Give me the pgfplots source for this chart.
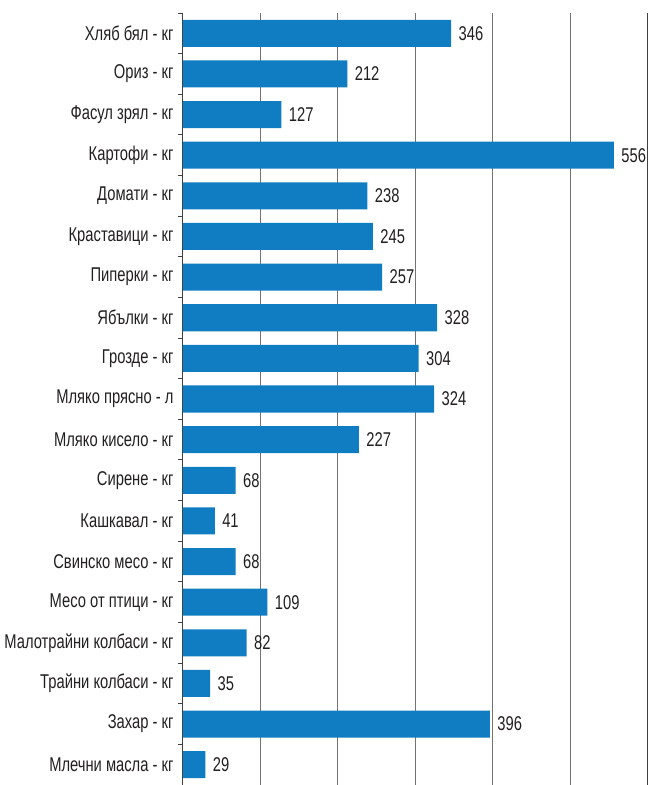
\documentclass[border=0pt]{standalone}
\usepackage{pgfplots}
\pgfplotsset{compat=1.18}
\usepackage{fontspec}
\setmainfont{Liberation Sans}[FakeStretch=0.74]
\usetikzlibrary{calc}
\definecolor{barblue}{HTML}{107DC2}
\definecolor{txt}{HTML}{231F20}

\begin{document}
\begin{tikzpicture}[x=1bp,y=1bp]
	\begin{axis}[
			name=ax,
			xbar,
			scale only axis,
			width=465bp, height=772bp,
			xmin=0, xmax=600,
			ymin=-0.5, ymax=18.5,
			y dir=reverse,
			bar width=0.665,
			ytick={0,...,18},
			yticklabels={Хляб бял  - кг,Ориз - кг,Фасул зрял - кг,Картофи - кг,Домати - кг,Краставици - кг,Пиперки - кг,Ябълки - кг,Грозде - кг,Мляко прясно - л,Мляко кисело - кг,Сирене - кг,Кашкавал - кг,Свинско месо - кг,Месо от птици - кг,Малотрайни колбаси - кг,Трайни колбаси - кг,Захар - кг,Млечни масла - кг},
			minor ytick={-0.5,0.5,...,18.5},
			major tick length=0pt,
			minor tick length=5bp,
			tick align=outside,
			ytick pos=left,
			xtick={100,200,...,600},
			xticklabels={},
			xtick style={draw=none},
			xmajorgrids=true,
			major grid style={draw=black!55,line width=1bp},
			separate axis lines,
			x axis line style={draw=none},
			y axis line style={draw=black!75,line width=1bp},
			minor y tick style={draw=black!75,line width=1bp},
			y tick label style={font=\fontsize{20}{21}\selectfont,text=txt,xshift=-6bp},
			/pgf/number format/assume math mode=true,
			nodes near coords,
			every node near coord/.append style={font=\fontsize{20}{21}\selectfont,text=txt,anchor=west,xshift=4bp},
		]
		\addplot[draw=none,fill=barblue] coordinates {
				(346,0)(212,1)(127,2)(556,3)(238,4)(245,5)(257,6)(328,7)(304,8)(324,9)
				(227,10)(68,11)(41,12)(68,13)(109,14)(82,15)(35,16)(396,17)(29,18)
			};
	\end{axis}
	\pgfresetboundingbox
	\useasboundingbox ($(ax.south west)+(-183bp,0)$) rectangle ($(ax.north east)+(1bp,13bp)$);
\end{tikzpicture}
\end{document}
